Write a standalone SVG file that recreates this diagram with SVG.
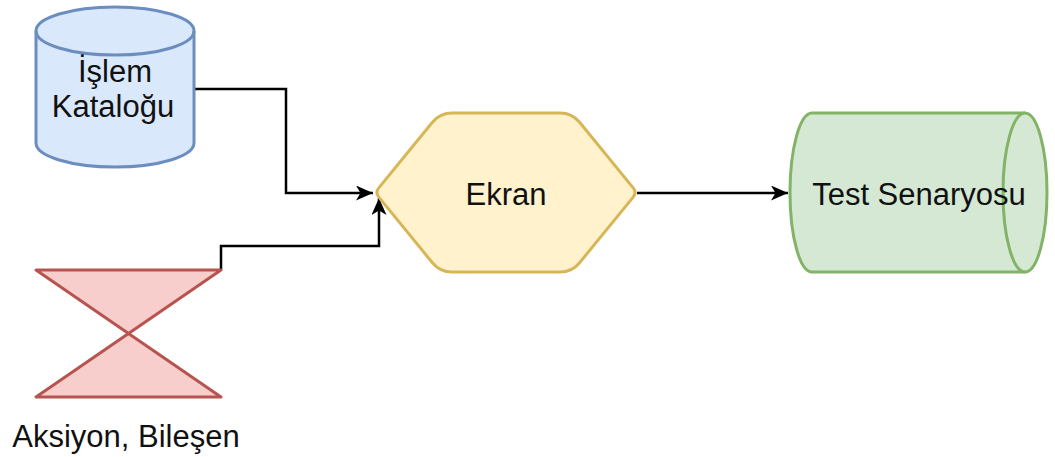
<svg xmlns="http://www.w3.org/2000/svg" width="1055" height="457" viewBox="0 0 1055 457">
  <style>
    .label { font-family: "Liberation Sans", Arial, Helvetica, sans-serif; font-size: 31px; fill: #111; text-anchor: middle; }
    .shape { stroke-width: 3; stroke-linejoin: round; }
    .edge { fill: none; stroke: #000; stroke-width: 2.5; }
  </style>
  <defs>
    <marker id="arrow" markerUnits="userSpaceOnUse" markerWidth="20" markerHeight="18" refX="17" refY="7.5" orient="auto">
      <path d="M0,0 L17,7.5 L0,15 L4.5,7.5 Z" fill="#000"/>
    </marker>
  </defs>

  <rect width="1055" height="457" fill="#fff"/>

  <g id="edges">
    <path class="edge" d="M194,89 L286,89 L286,193 L373,193" marker-end="url(#arrow)"/>
    <path class="edge" d="M221,270 L221,246 L379,246 L379,198" marker-end="url(#arrow)"/>
    <path class="edge" d="M637,193 L788,193" marker-end="url(#arrow)"/>
  </g>

  <g id="islem-katalogu">
    <path class="shape" fill="#dae8fc" stroke="#6c8ebf" d="M36,31 L36,143 A79,24 0 0 0 194,143 L194,31 A79,24 0 0 0 36,31 Z"/>
    <path class="shape" fill="none" stroke="#6c8ebf" d="M36,31 A79,24 0 0 0 194,31"/>
    <text class="label" x="115" y="82">İşlem</text>
    <text class="label" x="113" y="117">Kataloğu</text>
  </g>

  <g id="aksiyon-bilesen">
    <path class="shape" fill="#f8cecc" stroke="#b85450" d="M36,270 L221,270 L36,397 L221,397 Z"/>
    <text class="label" x="126" y="447">Aksiyon, Bileşen</text>
  </g>

  <g id="ekran">
    <path class="shape" fill="#fff2cc" stroke="#d6b656" d="M432.4,122.3 Q440,113 452,113 L560,113 Q572,113 579.6,122.3 L633.2,187.9 Q637,192.5 633.2,197.1 L579.6,262.7 Q572,272 560,272 L452,272 Q440,272 432.4,262.7 L378.8,197.1 Q375,192.5 378.8,187.9 Z"/>
    <text class="label" x="506" y="205">Ekran</text>
  </g>

  <g id="test-senaryosu">
    <path class="shape" fill="#d5e8d4" stroke="#82b366" d="M812,113 L1025,113 A22,79.5 0 0 1 1025,272 L812,272 A22,79.5 0 0 1 812,113 Z"/>
    <path class="shape" fill="none" stroke="#82b366" d="M1025,113 A22,79.5 0 0 0 1025,272"/>
    <text class="label" x="919" y="205">Test Senaryosu</text>
  </g>
</svg>
